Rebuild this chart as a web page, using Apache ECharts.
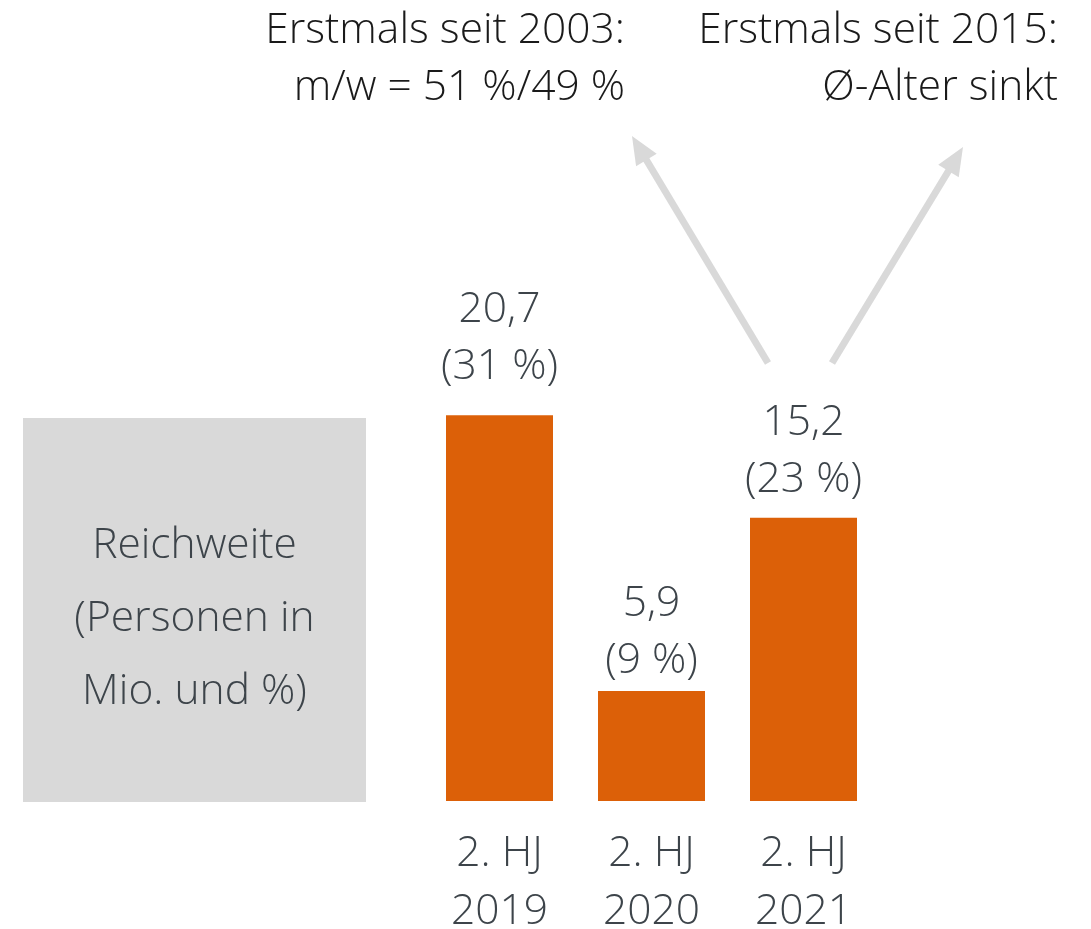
<!DOCTYPE html>
<html>
<head>
<meta charset="utf-8">
<script src="https://cdn.jsdelivr.net/npm/echarts@6/dist/echarts.min.js"></script>
<style>
  html, body { margin: 0; padding: 0; background: #fff; }
  #main { width: 1091px; height: 929px; }
</style>
</head>
<body>
<div id="main"></div>
<script>
// Daten
const categories = ['2. HJ\n2019', '2. HJ\n2020', '2. HJ\n2021'];
const values = [20.7, 5.9, 15.2];
const shares = ['31 %', '9 %', '23 %'];

const FONT = '"Open Sans", "Noto Sans", sans-serif';
const FS = 42.5;
const TEXT_COLOR = '#3d444a';
const ARROW_COLOR = '#d9d9d9';
// Abstand der Beschriftung über dem Balken (wie im Original leicht unterschiedlich)
const labelGap = [20, 2, 9];

const chart = echarts.init(document.getElementById('main'));

// Pfeil als Linie + Spitze
function arrow(x1, y1, x2, y2) {
  const dx = x2 - x1, dy = y2 - y1;
  const len = Math.sqrt(dx * dx + dy * dy);
  const ux = dx / len, uy = dy / len;
  const headLen = 28, headW = 12;
  const bx = x2 - ux * headLen, by = y2 - uy * headLen;
  return [
    {
      type: 'line',
      shape: { x1: x1, y1: y1, x2: bx + ux * 2, y2: by + uy * 2 },
      style: { stroke: ARROW_COLOR, lineWidth: 7 }
    },
    {
      type: 'polygon',
      shape: { points: [[x2, y2], [bx - uy * headW, by + ux * headW], [bx + uy * headW, by - ux * headW]] },
      style: { fill: ARROW_COLOR }
    }
  ];
}

const option = {
  animation: false,
  grid: { left: 423.5, width: 456, top: 335, bottom: 128, outerBoundsMode: 'none', containLabel: false },
  xAxis: {
    type: 'category',
    data: categories,
    axisLine: { show: false },
    axisTick: { show: false },
    axisLabel: {
      margin: 24,
      color: TEXT_COLOR,
      fontFamily: FONT,
      fontWeight: 300,
      fontSize: FS,
      lineHeight: 58
    }
  },
  yAxis: {
    type: 'value',
    min: 0,
    max: 25,
    show: false,
    splitLine: { show: false }
  },
  series: [{
    type: 'bar',
    data: values.map((v, i) => ({ value: v, label: { distance: labelGap[i] } })),
    barWidth: 107,
    itemStyle: { color: '#dc6008' },
    label: {
      show: true,
      position: 'top',
      color: TEXT_COLOR,
      fontFamily: FONT,
      fontWeight: 300,
      fontSize: FS,
      lineHeight: 57,
      formatter: p => String(p.value).replace('.', ',') + '\n(' + shares[p.dataIndex] + ')'
    }
  }],
  graphic: [
    {
      type: 'rect',
      shape: { x: 23, y: 418, width: 343, height: 384 },
      style: { fill: '#d9d9d9' }
    },
    {
      type: 'text',
      x: 194.5, y: 619,
      style: {
        text: 'Reichweite\n(Personen in\nMio. und %)',
        align: 'center', verticalAlign: 'middle',
        fill: TEXT_COLOR, font: '300 ' + FS + 'px ' + FONT, lineHeight: 73
      }
    },
    {
      type: 'text',
      x: 625, y: 59.5,
      style: {
        text: 'Erstmals seit 2003:\nm/w = 51 %/49 %',
        align: 'right', verticalAlign: 'middle',
        fill: '#1a1a1a', font: '300 ' + FS + 'px ' + FONT, lineHeight: 57
      }
    },
    {
      type: 'text',
      x: 1058, y: 59.5,
      style: {
        text: 'Erstmals seit 2015:\nØ-Alter sinkt',
        align: 'right', verticalAlign: 'middle',
        fill: '#1a1a1a', font: '300 ' + FS + 'px ' + FONT, lineHeight: 57
      }
    }
  ].concat(arrow(768, 363, 632, 136), arrow(832, 363, 963, 147))
};

chart.setOption(option);
</script>
</body>
</html>
